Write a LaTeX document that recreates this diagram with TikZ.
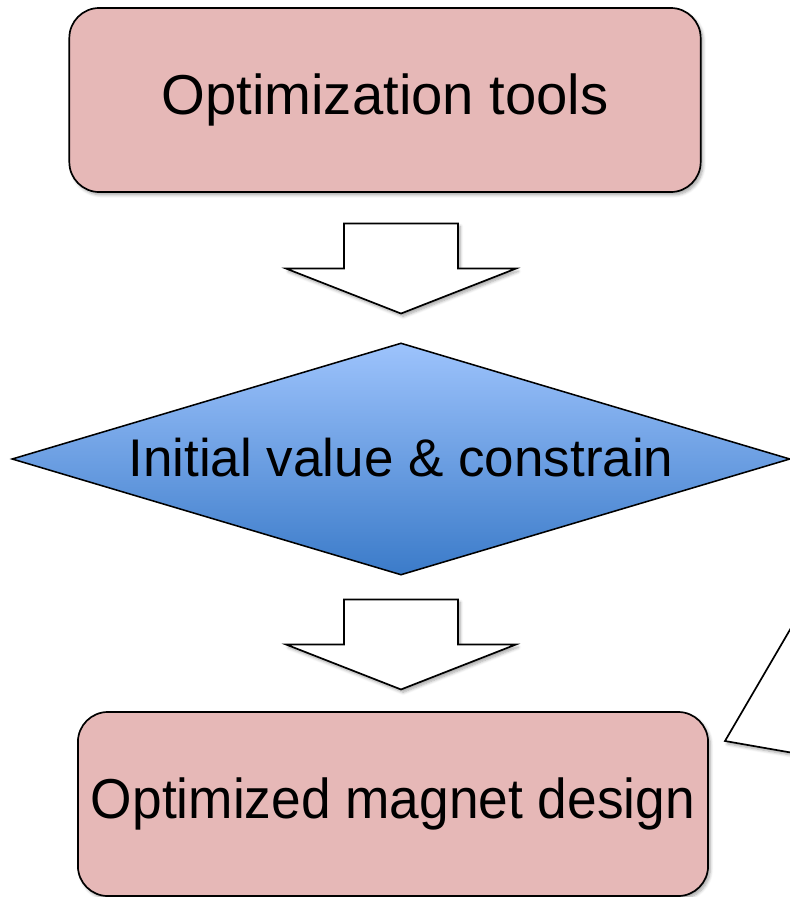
\documentclass[tikz,border=0pt]{standalone}
\usepackage{fontspec}
\setmainfont{Liberation Sans}
\usetikzlibrary{positioning,calc,shapes.geometric,shadows.blur}
\definecolor{boxpink}{HTML}{E6B8B7}
\definecolor{dialight}{HTML}{9DC3FC}
\definecolor{diadark}{HTML}{3B7BC9}
\tikzset{
  shd/.style={blur shadow={shadow xshift=1.6pt,shadow yshift=-2pt,
              shadow blur steps=6,shadow opacity=35}},
  pnk/.style={draw=black,line width=1.2pt,fill=boxpink,rounded corners=.75cm,
              minimum height=4.6cm,inner sep=0pt,shd,
              font=\fontsize{40}{48}\selectfont},
  dia/.style={diamond,draw=black,line width=1.1pt,top color=dialight,
              bottom color=diadark,aspect=3.35,inner sep=0pt,
              minimum width=19.45cm,minimum height=5.8cm,
              font=\fontsize{37.7}{45}\selectfont},
  blk/.pic={\draw[line width=1.2pt,fill=white,shd]
            (-57,-44) -- (57,-44) -- (57,1) -- (115,1) -- (0,46)
            -- (-115,1) -- (-57,1) -- cycle;},
}

\begin{document}
\begin{tikzpicture}[x=0.025cm,y=-0.025cm]
  \useasboundingbox (0,0) rectangle (790,897);
  \clip (0,0) rectangle (790,897);
  \node[pnk,minimum width=15.78cm] (opt) at (385,100) {Optimization tools};
  \node[dia] (init) at (401,459) {\raisebox{3pt}{Initial value \& constrain}};
  \node[pnk,minimum width=15.75cm] (mag) at (393,804)
       {\scalebox{0.947}[1]{Optimized magnet design}};
  \coordinate (m1) at ($(opt.south)!.5!(init.north)$);
  \coordinate (m2) at ($(init.south)!.5!(mag.north)$);
  \pic at (m1 -| init.north) {blk};
  \pic at (m2 -| init.north) {blk};
  % cut-off callout at the right edge
  \draw[line width=1.2pt,fill=white,shd] (805,604) -- (725,741) -- (805,755) -- cycle;
\end{tikzpicture}
\end{document}
